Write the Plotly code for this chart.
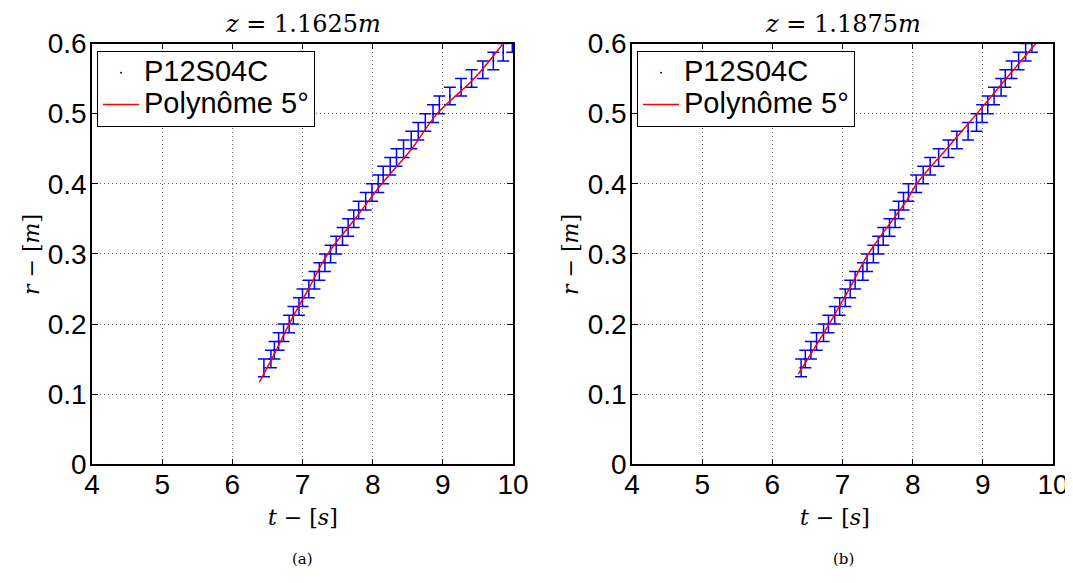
import plotly.graph_objects as go

# ---- data ----
r_pts = [0.1375, 0.15, 0.1625, 0.175, 0.1875, 0.2, 0.2125, 0.225, 0.2375, 0.25,
         0.2625, 0.275, 0.2875, 0.3, 0.3125, 0.325, 0.3375, 0.35, 0.3625, 0.375,
         0.3875, 0.4, 0.4125, 0.425, 0.4375, 0.45, 0.4625, 0.475, 0.4875, 0.5,
         0.5125, 0.525, 0.5375, 0.55, 0.5625, 0.575, 0.5875, 0.6]
r_err = 0.0125

t_a = [6.45, 6.55, 6.60, 6.66, 6.73, 6.81, 6.87, 6.95, 7.00, 7.09,
       7.17, 7.24, 7.32, 7.40, 7.48, 7.57, 7.65, 7.73, 7.80, 7.90,
       7.99, 8.08, 8.15, 8.25, 8.34, 8.44, 8.55, 8.65, 8.75, 8.86,
       8.95, 9.10, 9.26, 9.41, 9.57, 9.72, 9.86, 9.99]
t_b = [6.41, 6.47, 6.55, 6.63, 6.73, 6.80, 6.89, 6.96, 7.04, 7.11,
       7.18, 7.29, 7.35, 7.44, 7.51, 7.58, 7.67, 7.75, 7.80, 7.87,
       7.94, 8.05, 8.15, 8.25, 8.37, 8.51, 8.63, 8.79, 8.91, 8.99,
       9.07, 9.16, 9.26, 9.32, 9.41, 9.51, 9.61, 9.70]

fit_t_a = [6.385, 6.625, 6.81, 7.086, 7.36, 7.75, 8.13, 8.558, 8.92, 9.446, 9.86]
fit_r_a = [0.117, 0.1625, 0.2, 0.25, 0.3, 0.35, 0.4, 0.45, 0.5, 0.55, 0.6]
fit_t_b = [6.37, 6.81, 7.097, 7.368, 7.92, 8.058, 8.486, 8.914, 9.333, 9.756]
fit_r_b = [0.129, 0.2, 0.25, 0.3, 0.377, 0.4, 0.45, 0.5, 0.55, 0.6]

titles = ["<i>z</i> = 1.1625<i>m</i>", "<i>z</i> = 1.1875<i>m</i>"]
captions = ["(a)", "(b)"]
x_title = "<i>t</i> − [<i>s</i>]"
y_title = "<i>r</i> − [<i>m</i>]"
series_name = "P12S04C"
fit_name = "Polynôme 5°"
x_ticks = [4, 5, 6, 7, 8, 9, 10]
y_ticks = [0, 0.1, 0.2, 0.3, 0.4, 0.5, 0.6]

# page body has an 8px margin: work in screen pixels and subtract it
OFF = 8
W, H = 1073 - OFF, 562
SANS = "Liberation Sans, Arial, sans-serif"
SERIF = "DejaVu Serif, Liberation Serif, serif"


def px(sx):
    return (sx - OFF) / W


def py(sy):
    return 1 - (sy - OFF) / H


def big(s):
    return f'<span style="font-size:29px">{s}</span>'


fig = go.Figure()
panels = [(t_a, fit_t_a, fit_r_a, "x", "y", "legend"),
          (t_b, fit_t_b, fit_r_b, "x2", "y2", "legend2")]
for t, ft, fr, xa, ya, lg in panels:
    fig.add_trace(go.Scatter(
        x=t, y=r_pts, mode="markers", name=big(series_name),
        marker=dict(color="blue", size=2),
        error_y=dict(type="constant", value=r_err, color="blue",
                     thickness=1.5, width=6),
        xaxis=xa, yaxis=ya, legend=lg))
    fig.add_trace(go.Scatter(
        x=ft, y=fr, mode="lines", name=big(fit_name), line_shape="spline",
        line=dict(color="red", width=1.5),
        xaxis=xa, yaxis=ya, legend=lg))

xdom = [[px(92), px(513)], [px(632), px(1053)]]
ydom = [py(464.3), py(43.5)]

axis_common = dict(
    showline=True, linecolor="black", linewidth=1.5, mirror="ticks",
    ticks="inside", ticklen=6, tickcolor="black", automargin=False,
    showgrid=True, gridcolor="#6e6e6e", griddash="1px,3px", gridwidth=1,
    zeroline=False, tickfont=dict(family=SANS, size=28, color="black"),
)
for i in range(2):
    sx = "" if i == 0 else "2"
    fig.update_layout({
        f"xaxis{sx}": dict(axis_common, domain=xdom[i], range=[4, 10],
                           tickvals=x_ticks, anchor=f"y{sx}",
                           ticklabelstandoff=-6),
        f"yaxis{sx}": dict(axis_common, domain=ydom, range=[0, 0.6],
                           tickvals=y_ticks, ticktext=[str(v) for v in y_ticks],
                           anchor=f"x{sx}", ticklabelstandoff=-2),
    })

leg_common = dict(bgcolor="white", bordercolor="black", borderwidth=1,
                  font=dict(family=SANS, size=22, color="black"),
                  xanchor="left", yanchor="top", itemwidth=36,
                  tracegroupgap=0)
fig.update_layout(
    legend=dict(leg_common, x=px(97), y=py(51)),
    legend2=dict(leg_common, x=px(637), y=py(51)),
)

title_x = [302.5, 843]
xtitle_x = [303, 835]
ytitle_x = [32, 571]
for i in range(2):
    fig.add_annotation(text=titles[i], x=px(title_x[i]), y=1, xref="paper", yref="paper",
                       xanchor="center", yanchor="top", showarrow=False,
                       font=dict(family=SERIF, size=24, color="black"))
    fig.add_annotation(text=captions[i], x=px(title_x[i]), y=0, xref="paper", yref="paper",
                       xanchor="center", yanchor="bottom", showarrow=False,
                       font=dict(family=SERIF, size=15, color="black"))
    fig.add_annotation(text=x_title, x=px(xtitle_x[i]), y=py(517), xref="paper", yref="paper",
                       xanchor="center", yanchor="middle", showarrow=False,
                       font=dict(family=SERIF, size=22, color="black"))
    fig.add_annotation(text=y_title, x=px(ytitle_x[i]), y=py(255), xref="paper", yref="paper",
                       xanchor="center", yanchor="middle", showarrow=False, textangle=-90,
                       font=dict(family=SERIF, size=22, color="black"))

fig.update_layout(width=W, height=H,
                  margin=dict(l=0, r=0, t=0, b=0, autoexpand=False),
                  paper_bgcolor="white", plot_bgcolor="white", showlegend=True)
fig.write_html("out.html")
